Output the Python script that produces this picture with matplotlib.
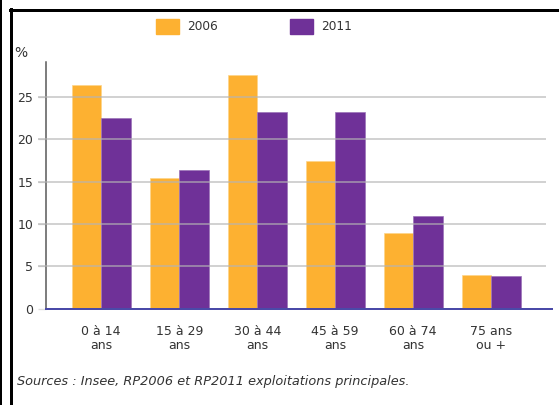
import numpy as np
import matplotlib
matplotlib.use("Agg")
import matplotlib.pyplot as plt
from matplotlib.lines import Line2D
from matplotlib.patches import Rectangle

categories = ["0 à 14\nans", "15 à 29\nans", "30 à 44\nans", "45 à 59\nans", "60 à 74\nans", "75 ans\nou +"]
values_2006 = [26.4, 15.4, 27.6, 17.4, 8.9, 4.0]
values_2011 = [22.5, 16.4, 23.2, 23.2, 10.9, 3.8]
series_names = ["2006", "2011"]
yticks = [0, 5, 10, 15, 20, 25]
source = "Sources : Insee, RP2006 et RP2011 exploitations principales."

orange = "#FDB131"
purple = "#6F3198"
text_color = "#333333"

W, H = 559, 405
fig = plt.figure(figsize=(W / 100, H / 100), dpi=100)
px = 72 / 100  # points per pixel

# axes placement (pixel coords from the reference)
x0, x1 = 45.6, 552
y_bot, y_top = 308.5, 62.3
ax = fig.add_axes([x0 / W, 1 - y_bot / H, (x1 - x0) / W, (y_bot - y_top) / H])

x = np.arange(len(categories))
w = 0.38
ax.bar(x - w / 2, values_2006, w, color=orange, edgecolor="#FDD58A", linewidth=0.5, zorder=2)
ax.bar(x + w / 2, values_2011, w, color=purple, edgecolor="#9B74B8", linewidth=0.5, zorder=2)

ax.set_xlim(-0.713, 5.78)
ax.set_ylim(0, 29.1)

# gridlines on top of bars, extending a bit left of the axis
for t in yticks[1:]:
    ax.axhline(t, xmin=-0.013, xmax=0.986, color="#b4b4b4", alpha=0.6,
               linewidth=2 * px, zorder=3, clip_on=False)

for s in ["top", "right", "bottom"]:
    ax.spines[s].set_visible(False)
ax.spines["left"].set_color("#555555")
ax.spines["left"].set_linewidth(1.5 * px)
ax.axhline(0, color="#4a4aa8", linewidth=2 * px, zorder=4, clip_on=False)

ax.set_yticks(yticks)
ax.set_yticklabels([str(t) for t in yticks], fontsize=9, color=text_color)
ax.tick_params(axis="y", length=6, width=1, color="#dddddd", pad=3)
ax.set_xticks(x)
ax.set_xticklabels(categories, fontsize=9, color=text_color, linespacing=1.05)
ax.tick_params(axis="x", length=0, pad=12)

fig.text(14 / W, 1 - 53 / H, "%", fontsize=10, color=text_color, va="center", ha="left")

# legend
for sx, tx, col, name in [(156, 187, orange, series_names[0]), (290, 321, purple, series_names[1])]:
    fig.patches.append(Rectangle((sx / W, 1 - 34 / H), 23 / W, 15 / H,
                                 transform=fig.transFigure, color=col, figure=fig))
    fig.text(tx / W, 1 - 27 / H, name, fontsize=8.7, color=text_color, va="center", ha="left")

fig.text(17 / W, 1 - 382 / H, source, fontsize=9.3, style="italic", color=text_color,
         va="center", ha="left")

# frame borders
def fline(xs, ys, lw):
    fig.lines.append(Line2D([v / W for v in xs], [1 - v / H for v in ys],
                            transform=fig.transFigure, color="black",
                            linewidth=lw * px, figure=fig))

fline([9.5, W], [10, 10], 3)
fline([11, 11], [8.5, H], 3)
fline([1.5, 1.5], [0, H], 2)

fig.savefig("out.png", dpi=100)
